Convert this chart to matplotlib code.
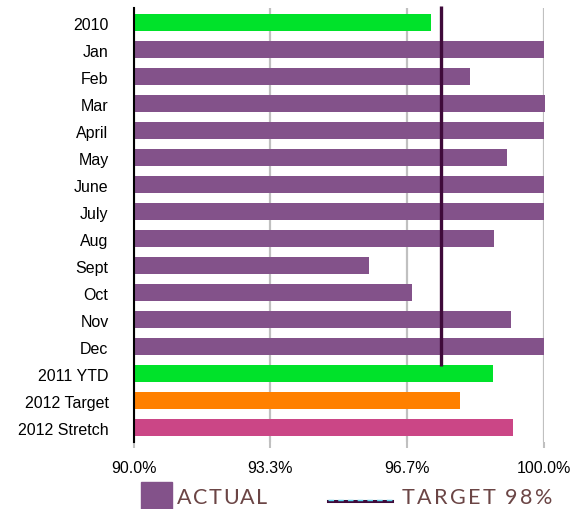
import numpy as np
import matplotlib.pyplot as plt

# donnees
labels = ["2010", "Jan", "Feb", "Mar", "April", "May", "June", "July", "Aug",
          "Sept", "Oct", "Nov", "Dec", "2011 YTD", "2012 Target", "2012 Stretch"]
values = [97.25, 100.0, 98.2, 100.04, 100.0, 99.1, 100.0, 100.0, 98.8,
          95.75, 96.8, 99.2, 100.0, 98.77, 97.96, 99.26]
colors = ["#00e22a"] + ["#83528a"] * 12 + ["#00e22a", "#ff8000", "#cb4686"]
xticks = [90.0, 93.33, 96.67, 100.0]
xticklabels = ["90.0%", "93.3%", "96.7%", "100.0%"]
target_pos = 97.5

plt.rcParams['font.family'] = ['Liberation Sans', 'DejaVu Sans']

W, H = 572, 510
fig = plt.figure(figsize=(W / 100, H / 100), dpi=100)
ax = fig.add_axes([0.2334, 0.1314, 0.7171, 0.8504])

y = np.arange(len(labels))
ax.barh(y, [v - 90 for v in values], left=90, height=0.64, color=colors,
        zorder=2, clip_on=False)
ax.vlines(target_pos, -0.62, 12.7, color="#3f0a3a", lw=2.4, zorder=3, clip_on=False)

ax.set_xlim(90, 100)
ax.set_ylim(15.53, -0.53)
ax.set_yticks(y)
ax.set_yticklabels(labels, fontsize=11.5)
ax.tick_params(axis='y', length=0, pad=18)
ax.set_xticks(xticks)
ax.set_xticklabels(xticklabels, fontsize=11.5)
ax.tick_params(axis='x', length=4, color="#c0c0c0", pad=9, width=1.5)
ax.xaxis.grid(True, color="#c0c0c0", lw=1.6, zorder=0)
for s in ["top", "right", "bottom"]:
    ax.spines[s].set_visible(False)
ax.spines["left"].set_linewidth(1.5)
ax.spines["left"].set_zorder(4)


def spaced_text(x0, x1, ybase, s, **kw):
    # lettres espacees pour remplir la largeur x0..x1 (en pixels)
    r = fig.canvas.get_renderer()
    parts = [fig.text(0, 0, c, **kw) for c in s]
    widths = [p.get_window_extent(r).width for p in parts]
    gap = ((x1 - x0) - sum(widths)) / (len(s) - 1)
    x = x0
    for p, w in zip(parts, widths):
        p.set_position((x / W, 1 - ybase / H))
        x += w + gap


legend_kw = dict(fontsize=15.5, color="#6b4545", family="Lato", va="baseline")
fig.patches.append(plt.Rectangle((141 / W, -0.02), 31 / W, (H - 483) / H + 0.02,
                                 transform=fig.transFigure, color="#83528a"))
spaced_text(177, 267, 504, "ACTUAL", **legend_kw)
fig.lines.append(plt.Line2D([328 / W, 392 / W], [1 - 502 / H] * 2, transform=fig.transFigure,
                            color="#3f0a3a", lw=2.2))
fig.lines.append(plt.Line2D([328 / W, 392 / W], [1 - 500.5 / H] * 2, transform=fig.transFigure,
                            color="#5ad8f0", lw=1.0, ls=(0, (4, 3))))
spaced_text(402, 552, 504, "TARGET 98%", **legend_kw)

fig.savefig("out.png", dpi=100)
